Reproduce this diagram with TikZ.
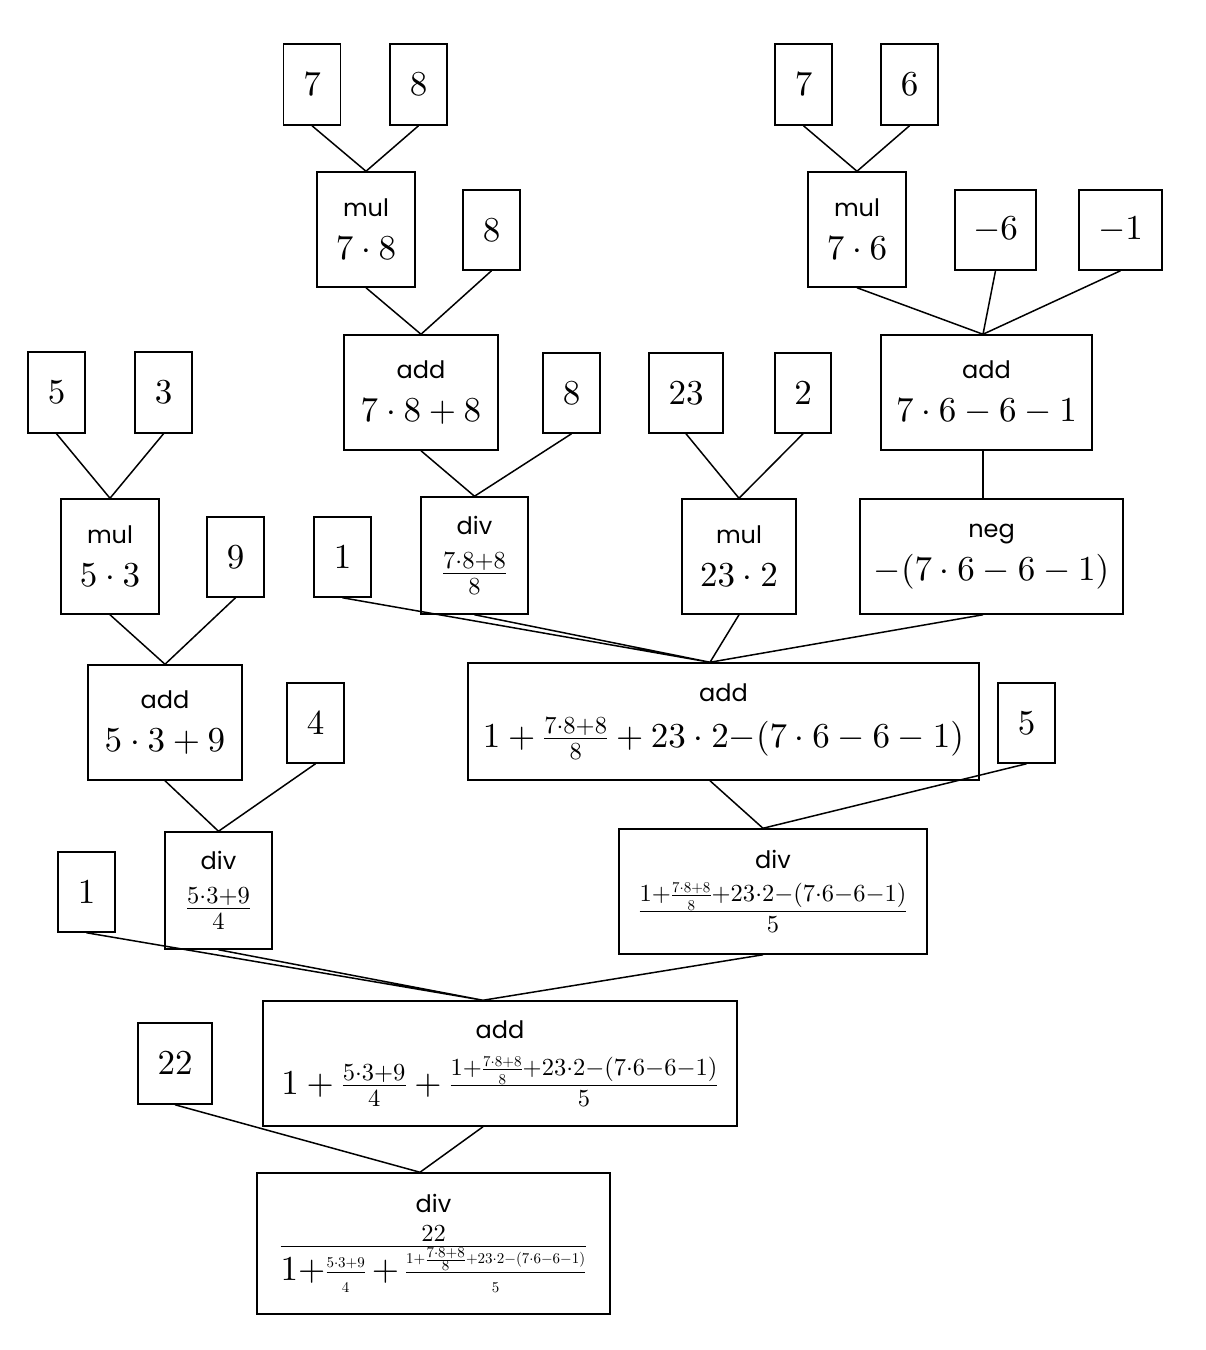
\RequirePackage{fix-cm}
\documentclass[tikz,border=0pt]{standalone}
\usepackage{amsmath}
\usepackage{fontspec}
\usetikzlibrary{calc}
\setmainfont{lmroman10-regular.otf}
\newfontfamily\opfont{Poppins}
\DeclareFontShape{OT1}{cmr}{m}{n}{<->cmr10}{}
\DeclareFontShape{OML}{cmm}{m}{it}{<->cmmi10}{}
\DeclareMathSizes{35}{35}{24.5}{15}
\newcommand{\opname}[1]{{\opfont\fontsize{24}{28}\selectfont #1}}

\begin{document}
\begin{tikzpicture}[x=1pt, y=-1pt, line width=1.5pt,
    box/.style={draw, inner sep=0pt, align=center, font=\fontsize{35}{43}\selectfont},
    leaf/.style={box, minimum width=57pt, minimum height=80pt}]
  \useasboundingbox (0,0) rectangle (1206,1350);

  \node[leaf, minimum height=81pt] (n7a) at (312,84.5) {$7$};
  \node[leaf, minimum height=81pt] (n8a) at (418.5,84.5) {$8$};
  \node[box, minimum width=98pt, minimum height=115pt] (mul78) at (366,229.5) {\opname{mul}\\$7\cdot 8$};
  \node[leaf] (n8b) at (491.5,230) {$8$};
  \node[box, minimum width=154pt, minimum height=115pt] (add788) at (421,392.5) {\opname{add}\\$7\cdot 8+8$};
  \node[leaf] (n8c) at (571.5,393) {$8$};
  \node[box, minimum width=107pt, minimum height=117pt] (div788) at (474.5,555.5) {\opname{div}\\[5pt]$\frac{7\cdot 8+8}{8}$};

  \node[leaf, minimum height=81pt] (n7b) at (803.5,84.5) {$7$};
  \node[leaf, minimum height=81pt] (n6a) at (909.5,84.5) {$6$};
  \node[box, minimum width=98pt, minimum height=115pt] (mul76) at (857,229.5) {\opname{mul}\\$7\cdot 6$};
  \node[leaf, minimum width=81pt] (nm6) at (995.5,230) {$-6$};
  \node[leaf, minimum width=83pt] (nm1) at (1120.5,230) {$-1$};
  \node[box, minimum width=211pt, minimum height=115pt] (add761) at (986.5,392.5) {\opname{add}\\$7\cdot 6-6-1$};
  \node[box, minimum width=263pt, minimum height=115pt] (neg) at (991.5,556.5) {\opname{neg}\\$-(7\cdot 6-6-1)$};

  \node[leaf, minimum width=74pt] (n23) at (686,393) {$23$};
  \node[leaf, minimum width=56pt] (n2) at (803,393) {$2$};
  \node[box, minimum width=114pt, minimum height=115pt] (mul232) at (739,556.5) {\opname{mul}\\$23\cdot 2$};

  \node[leaf, minimum height=81pt] (n5a) at (56.5,392.5) {$5$};
  \node[leaf, minimum height=81pt] (n3) at (163.5,392.5) {$3$};
  \node[box, minimum width=98pt, minimum height=115pt] (mul53) at (110,556.5) {\opname{mul}\\$5\cdot 3$};
  \node[leaf] (n9) at (235.5,557) {$9$};
  \node[box, minimum width=154pt, minimum height=115pt] (add539) at (165,722.5) {\opname{add}\\$5\cdot 3+9$};
  \node[leaf] (n4) at (315.5,723) {$4$};
  \node[box, minimum width=107pt, minimum height=117pt] (div539) at (218.5,890.5) {\opname{div}\\[5pt]$\frac{5\cdot 3+9}{4}$};

  \node[leaf] (n1a) at (342.5,557) {$1$};
  \node[box, minimum width=511pt, minimum height=117pt] (bigadd) at (723.5,721.5)
    {\opname{add}\\[3pt]$1+\frac{7\cdot 8+8}{8}+23\cdot 2{-}(7\cdot 6-6-1)$};
  \node[leaf] (n5b) at (1026.5,723) {$5$};
  \node[box, minimum width=308pt, minimum height=125pt] (bigdiv) at (773,891.5)
    {\opname{div}\\[9pt]$\frac{1+\frac{7\cdot 8+8}{8}+23\cdot 2-(7\cdot 6-6-1)}{5}$};

  \node[leaf] (n1b) at (86.5,892) {$1$};
  \node[box, minimum width=474pt, minimum height=125pt] (add2) at (500,1063.5)
    {\opname{add}\\[13pt]$1+\frac{5\cdot 3+9}{4}+\frac{1+\frac{7\cdot 8+8}{8}+23\cdot 2-(7\cdot 6-6-1)}{5}$};
  \node[leaf, minimum width=74pt, minimum height=81pt] (n22) at (175,1063.5) {$22$};
  \node[box, minimum width=353pt, minimum height=141pt] (divfin) at (433.5,1243.5)
    {\opname{div}\\$\frac{22}{\textstyle 1{+}\frac{\scriptscriptstyle 5\cdot 3+9}{\scriptscriptstyle 4}
      \,{+}\,\frac{\scriptscriptstyle 1+\frac{7\cdot 8+8}{8}+23\cdot 2-(7\cdot 6-6-1)}{\scriptscriptstyle 5}}$};

  \coordinate (add761in) at ($(add761.north)+(-3.5,0)$);
  \coordinate (add761out) at ($(add761.south)+(-3.5,0)$);
  \coordinate (negin) at ($(neg.north)+(-8.5,0)$);
  \coordinate (negout) at ($(neg.south)+(-8.5,0)$);
  \coordinate (bigaddin) at ($(bigadd.north)+(-13.5,0)$);
  \coordinate (bigaddout) at ($(bigadd.south)+(-13.5,0)$);
  \coordinate (bigdivin) at ($(bigdiv.north)+(-10,0)$);
  \coordinate (bigdivout) at ($(bigdiv.south)+(-10,0)$);
  \coordinate (add2in) at ($(add2.north)+(-17,0)$);
  \coordinate (add2out) at ($(add2.south)+(-17,0)$);
  \coordinate (divfinin) at ($(divfin.north)+(-13.5,0)$);

  \draw (n7a.south) -- (mul78.north) (n8a.south) -- (mul78.north);
  \draw (mul78.south) -- (add788.north) (n8b.south) -- (add788.north);
  \draw (add788.south) -- (div788.north) (n8c.south) -- (div788.north);
  \draw (n7b.south) -- (mul76.north) (n6a.south) -- (mul76.north);
  \draw (mul76.south) -- (add761in) (nm6.south) -- (add761in) (nm1.south) -- (add761in);
  \draw (add761out) -- (negin);
  \draw (n23.south) -- (mul232.north) (n2.south) -- (mul232.north);
  \draw (n5a.south) -- (mul53.north) (n3.south) -- (mul53.north);
  \draw (mul53.south) -- (add539.north) (n9.south) -- (add539.north);
  \draw (add539.south) -- (div539.north) (n4.south) -- (div539.north);
  \draw (n1a.south) -- (bigaddin) (div788.south) -- (bigaddin) (mul232.south) -- (bigaddin) (negout) -- (bigaddin);
  \draw (bigaddout) -- (bigdivin) (n5b.south) -- (bigdivin);
  \draw (n1b.south) -- (add2in) (div539.south) -- (add2in) (bigdivout) -- (add2in);
  \draw (n22.south) -- (divfinin) (add2out) -- (divfinin);
\end{tikzpicture}
\end{document}
